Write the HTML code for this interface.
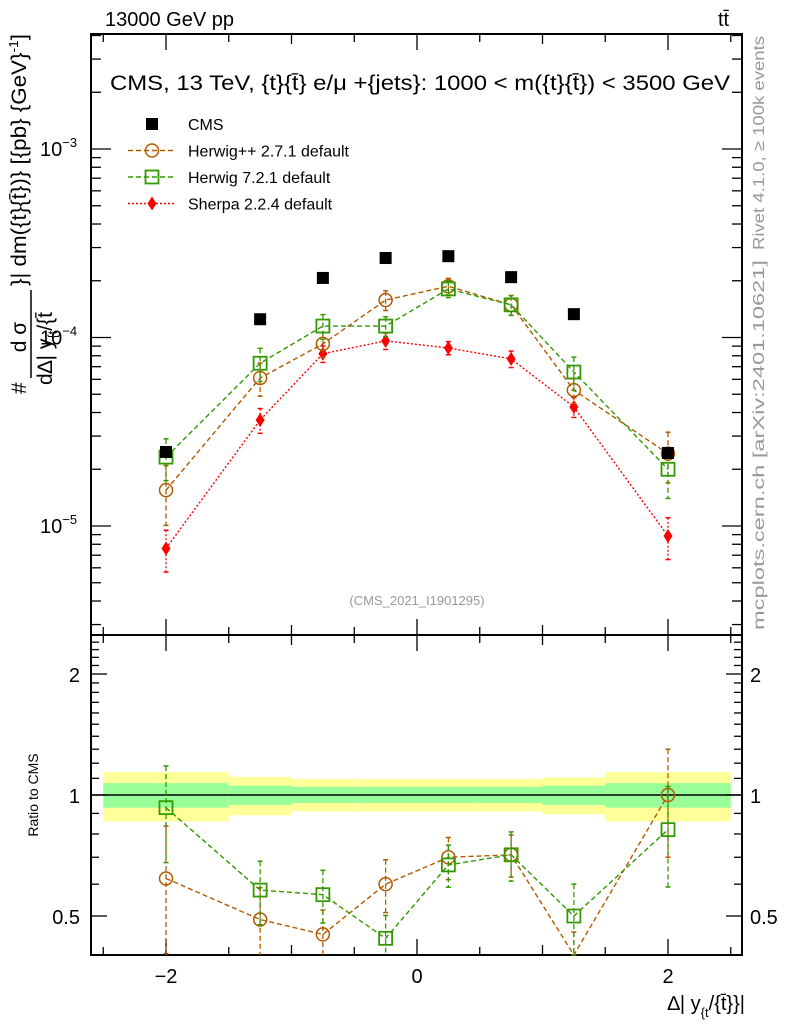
<!DOCTYPE html>
<html><head><meta charset="utf-8"><style>
body{margin:0;background:#fff;}
svg{display:block;font-family:"Liberation Sans",sans-serif;}
</style></head><body>
<svg id="c" width="786" height="1024" xmlns="http://www.w3.org/2000/svg">
<rect x="0" y="0" width="786" height="1024" fill="#fff"/>
<g id="bands"></g>
<g id="axes"></g>
<g id="series"></g>
<g id="labels">
<text x="105" y="26" font-size="20">13000 GeV pp</text>
<text x="718" y="26" font-size="20">tt̄</text>
<text x="110" y="90" font-size="21" textLength="620" lengthAdjust="spacingAndGlyphs">CMS, 13 TeV, {t}{t̄} e/μ +{jets}: 1000 &lt; m({t}{t̄}) &lt; 3500 GeV</text>
<text x="417" y="605" font-size="13" fill="#999" text-anchor="middle">(CMS_2021_I1901295)</text>
<text transform="translate(764,250) rotate(-90)" font-size="16" fill="#999" textLength="214" lengthAdjust="spacingAndGlyphs">Rivet 4.1.0, ≥ 100k events</text>
<text transform="translate(764,630) rotate(-90)" font-size="16" fill="#999" textLength="370" lengthAdjust="spacingAndGlyphs">mcplots.cern.ch [arXiv:2401.10621]</text>
<g font-size="21">
<text transform="translate(26,394) rotate(-90)">#</text>
<text transform="translate(26,337) rotate(-90)" text-anchor="middle">d σ</text>
<line x1="31" y1="290" x2="31" y2="378" stroke="#000" stroke-width="1.5"/>
<text transform="translate(52,385) rotate(-90)">d∆| y<tspan font-size="13" dy="5">{t</tspan><tspan dy="-5">/{t̄</tspan></text>
<text transform="translate(26,286) rotate(-90)" textLength="252" lengthAdjust="spacingAndGlyphs">}| dm({t}{t̄})} [{pb} {GeV}<tspan font-size="13" dy="-8">-1</tspan><tspan dy="8">]</tspan></text>
</g>
<text transform="translate(38,795) rotate(-90)" font-size="14" text-anchor="middle">Ratio to CMS</text>
<text x="745" y="1010" font-size="20" text-anchor="end">∆| y<tspan font-size="13" dy="7">{t</tspan><tspan dy="-7">/{t̄}}|</tspan></text>
</g>
<g id="legend"></g>
</svg>
<script>
const xCenters=[-2,-1.25,-0.75,-0.25,0.25,0.75,1.25,2];
const binLo=[-2.5,-1.5,-1,-0.5,0,0.5,1,1.5];
const binHi=[-1.5,-1,-0.5,0,0.5,1,1.5,2.5];
const cmsVals=[2.47e-5,1.25e-4,2.07e-4,2.64e-4,2.70e-4,2.09e-4,1.33e-4,2.44e-5];
const hppVals=[1.55e-5,6.1e-5,9.25e-5,1.58e-4,1.87e-4,1.49e-4,5.26e-5,2.42e-5];
const hppErr=[0.35,0.2,0.15,0.12,0.1,0.12,0.15,0.3];
const h7Vals=[2.32e-5,7.3e-5,1.15e-4,1.15e-4,1.81e-4,1.49e-4,6.56e-5,2.0e-5];
const h7Err=[0.25,0.2,0.15,0.12,0.1,0.12,0.2,0.3];
const sheVals=[7.6e-6,3.65e-5,8.2e-5,9.6e-5,8.8e-5,7.7e-5,4.28e-5,8.85e-6];
const sheErr=[0.25,0.15,0.1,0.1,0.08,0.1,0.12,0.25];
const hppRatio=[0.62,0.49,0.45,0.60,0.70,0.71,0.38,1.0];
const hppRatioErr=[0.35,0.2,0.15,0.15,0.12,0.12,0.2,0.3];
const h7Ratio=[0.93,0.58,0.565,0.44,0.67,0.71,0.50,0.82];
const h7RatioErr=[0.27,0.18,0.15,0.14,0.12,0.14,0.2,0.28];
const bandTotUp=[1.14,1.11,1.095,1.095,1.095,1.095,1.105,1.14];
const bandTotDn=[0.86,0.89,0.91,0.91,0.91,0.91,0.895,0.86];
const bandStatUp=[1.07,1.055,1.048,1.048,1.048,1.048,1.055,1.07];
const bandStatDn=[0.93,0.945,0.955,0.955,0.955,0.955,0.945,0.93];
const mainTicks=["10^-3","10^-4","10^-5"];
const xTickLabels=[-2,0,2];
const ratioTickLabels=[2,1,0.5];

const NS="http://www.w3.org/2000/svg";
const X0=91,X1=742,MT=34,MB=635,RB=955;
const sx=x=>417+x*125.5;
const sy=v=>149+(-3-Math.log10(v))*188.5;
const ry=r=>795-Math.log10(r)*402;
function mk(p,t,a){const e=document.createElementNS(NS,t);for(const k in a)e.setAttribute(k,a[k]);p.appendChild(e);return e;}
const axes=document.getElementById('axes'),ser=document.getElementById('series'),bands=document.getElementById('bands'),leg=document.getElementById('legend');

for(let i=0;i<binLo.length;i++){
 let r=mk(bands,'rect',{x:sx(binLo[i]),y:ry(bandTotUp[i]),width:sx(binHi[i])-sx(binLo[i]),height:ry(bandTotDn[i])-ry(bandTotUp[i]),fill:'#ffff99'});
 
 
 let g=mk(bands,'rect',{x:sx(binLo[i]),y:ry(bandStatUp[i]),width:sx(binHi[i])-sx(binLo[i]),height:ry(bandStatDn[i])-ry(bandStatUp[i]),fill:'#99ff99'});
 
 
}
mk(bands,'line',{x1:X0,x2:X1,y1:ry(1),y2:ry(1),stroke:'#000','stroke-width':1.5});

let f1=mk(axes,'rect',{x:X0,y:MT,width:X1-X0,height:MB-MT,fill:'none',stroke:'#000','stroke-width':2});


let f2=mk(axes,'rect',{x:X0,y:MB,width:X1-X0,height:RB-MB,fill:'none',stroke:'#000','stroke-width':2});


for(let t=-2.5;t<=2.5001;t+=0.5){
 const big=Math.abs(t-Math.round(t))<1e-6, L=big?(Math.round(t)%2===0?16:10):8, x=sx(t);
 for(const [y,d] of [[MT,1],[MB,-1],[MB,1],[RB,-1]]) mk(axes,'line',{x1:x,x2:x,y1:y,y2:y+d*L,stroke:'#000','stroke-width':1.3});
}
xTickLabels.forEach(v=>{let t=mk(axes,'text',{x:sx(v),y:983,'font-size':20,'text-anchor':'middle'});t.textContent=v<0?'−'+(-v):v;
 
 });
for(let e=-6;e<=-2;e++)for(let m=1;m<10;m++){const v=m*Math.pow(10,e),y=sy(v);if(y<MT||y>MB)continue;
 const L=m===1?20:10;mk(axes,'line',{x1:X0,x2:X0+L,y1:y,y2:y,stroke:'#000','stroke-width':1.3});mk(axes,'line',{x1:X1,x2:X1-L,y1:y,y2:y,stroke:'#000','stroke-width':1.3});}
mainTicks.forEach(s=>{const e=+s.split('^')[1];let t=mk(axes,'text',{x:40,y:sy(Math.pow(10,e))+7,'font-size':20});t.innerHTML='10<tspan font-size="13" dy="-9">'+e.toString().replace('-','−')+'</tspan>';
 
 });
for(let r=0.4;r<=2.5001;r+=0.1){const y=ry(r);if(y<MB||y>RB)continue;const mj=[0.5,1,2].some(v=>Math.abs(v-r)<1e-6),L=mj?16:8;
 mk(axes,'line',{x1:X0,x2:X0+L,y1:y,y2:y,stroke:'#000','stroke-width':1.3});mk(axes,'line',{x1:X1,x2:X1-L,y1:y,y2:y,stroke:'#000','stroke-width':1.3});}
ratioTickLabels.forEach(v=>{for(const [x,a] of [[80,'end'],[750,'start']]){let t=mk(axes,'text',{x:x,y:ry(v)+8,'font-size':20,'text-anchor':a});t.textContent=v;
 
 }});

function marker(g,type,x,y,c){
 if(type==='sq')return mk(g,'rect',{x:x-6,y:y-6,width:12,height:12,fill:'#000'});
 if(type==='circ')return mk(g,'circle',{cx:x,cy:y,r:6.5,fill:'none',stroke:c,'stroke-width':1.5});
 if(type==='osq')return mk(g,'rect',{x:x-6.5,y:y-6.5,width:13,height:13,fill:'none',stroke:c,'stroke-width':1.8});
 if(type==='dia')return mk(g,'path',{d:`M${x} ${y-7}L${x+4.5} ${y}L${x} ${y+7}L${x-4.5} ${y}Z`,fill:c});
}
function series(name,vals,errs,c,dash,type,mapY,clipTop,clipBot){
 const g=mk(ser,'g',{});
 
 
 const clamp=y=>Math.max(clipTop,Math.min(clipBot,y));
 if(errs){vals.forEach((v,i)=>{const x=sx(xCenters[i]),y1=clamp(mapY(v*(1+errs[i]))),y2=clamp(mapY(v*(1-errs[i])));
  mk(g,'line',{x1:x,x2:x,y1:y1,y2:y2,stroke:c,'stroke-width':1.3,'stroke-dasharray':dash});
  [y1,y2].forEach(y=>{if(y>clipTop&&y<clipBot)mk(g,'line',{x1:x-2.5,x2:x+2.5,y1:y,y2:y,stroke:c,'stroke-width':1.5});});});
  mk(g,'polyline',{points:vals.map((v,i)=>sx(xCenters[i])+','+clamp(mapY(v))).join(' '),fill:'none',stroke:c,'stroke-width':1.4,'stroke-dasharray':dash});}
 vals.forEach((v,i)=>{const y=mapY(v);if(y>=clipTop&&y<=clipBot){const m=marker(g,type,sx(xCenters[i]),y,c);
  
  }});
}
series('sherpa-series',sheVals,sheErr,'#ff0000','2,2','dia',sy,MT,MB);
series('herwigpp-series',hppVals,hppErr,'#b25a00','5,3','circ',sy,MT,MB);
series('herwig7-series',h7Vals,h7Err,'#339900','5,3','osq',sy,MT,MB);
series('cms-data',cmsVals,null,'#000','','sq',sy,MT,MB);
series('herwigpp-ratio',hppRatio,hppRatioErr,'#b25a00','5,3','circ',ry,MB,RB);
series('herwig7-ratio',h7Ratio,h7RatioErr,'#339900','5,3','osq',ry,MB,RB);

const L=[['CMS','#000','','sq'],['Herwig++ 2.7.1 default','#b25a00','5,3','circ'],['Herwig 7.2.1 default','#339900','5,3','osq'],['Sherpa 2.2.4 default','#ff0000','2,2','dia']];
L.forEach((l,i)=>{const y=124+i*26.5;const g=mk(leg,'g',{});
 
 
 if(l[2])mk(g,'line',{x1:128,x2:175,y1:y,y2:y,stroke:l[1],'stroke-width':1.4,'stroke-dasharray':l[2]});
 marker(g,l[3],152,y,l[1]);
 const t=mk(g,'text',{x:188,y:y+6,'font-size':16});t.textContent=l[0];});
</script>
</body></html>
